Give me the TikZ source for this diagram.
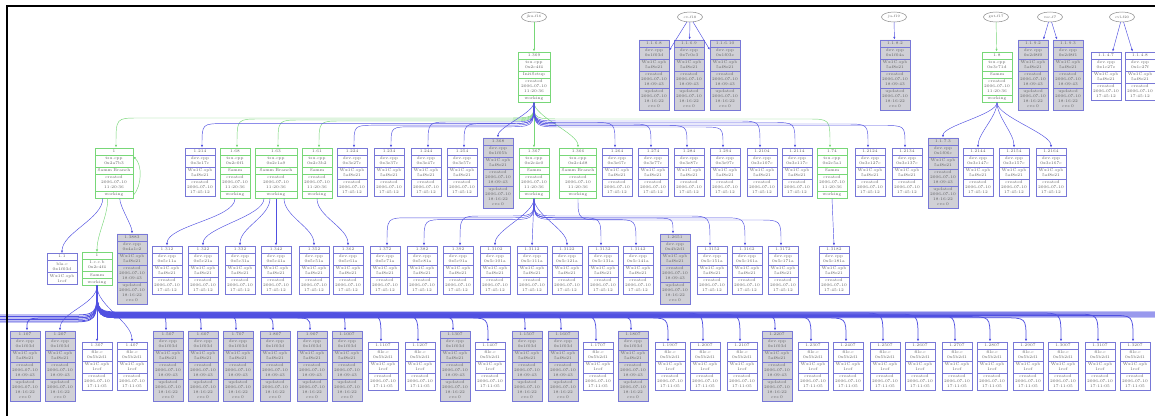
\documentclass[tikz,border=0pt]{standalone}
\usetikzlibrary{shapes.multipart,shapes.geometric,arrows.meta,calc}
\definecolor{bluec}{RGB}{80,80,225}
\definecolor{boxblue}{RGB}{120,120,215}
\definecolor{greenc}{RGB}{120,215,120}
\definecolor{grayc}{RGB}{208,208,214}
\definecolor{txt}{RGB}{95,95,95}
% node contents
\newcommand\cwhite[2]{\strut #1\nodepart{two}\strut dev.cpp\\\strut #2\nodepart{three}\strut Wx1C.spb\\\strut 5af8e21\nodepart{four}\strut created\\\strut 2006-07-10\\\strut 17:45:12}
\newcommand\cgray[2]{\strut #1\nodepart{two}\strut dev.cpp\\\strut #2\nodepart{three}\strut Wx1C.spb\\\strut 5af8e21\nodepart{four}\strut created\\\strut 2006-07-10\\\strut 18:09:43\nodepart{five}\strut updated\\\strut 2006-07-10\\\strut 18:16:22\\\strut cvs 0}
\newcommand\cgreen[3]{\strut #1\nodepart{two}\strut tsu.cpp\\\strut #2\nodepart{three}\strut #3\nodepart{four}\strut created\\\strut 2006-07-10\\\strut 11:20:36\nodepart{five}\strut working}
\newcommand\rcw[1]{\strut #1\nodepart{two}\strut file.c\\\strut 0x5b2d1\nodepart{three}\strut Wx1C.spb\\\strut 1ref\nodepart{four}\strut created\\\strut 2006-07-10\\\strut 17:11:05}
\newcommand\rcg[1]{\cgray{#1}{0x1f03d}}
% connectors
\newcommand\busR[4]{\draw[#1] let \p1=#2, \p2=#3 in (\p1) .. controls (\x1,-#4pt) .. (\x1+30pt,-#4pt) -- (\x2-25pt,-#4pt) .. controls (\x2-2pt,-#4pt) .. (\x2-2pt,\y2);}
\newcommand\busL[4]{\draw[#1] let \p1=#2, \p2=#3 in (\p1) .. controls (\x1,-#4pt) .. (\x1-30pt,-#4pt) -- (\x2+25pt,-#4pt) .. controls (\x2+2pt,-#4pt) .. (\x2+2pt,\y2);}
\newcommand\sedge[4]{\draw[#1] #2 .. controls +(0,#4) and +(0,-#4) .. #3;}
\tikzset{
 rec/.style={rectangle split, rectangle split parts=#1, draw, line width=0.5pt,
   text width=26pt, align=center, inner xsep=2pt, inner ysep=0.8pt,
   font=\fontsize{4}{5}\selectfont, text=txt},
 wbox/.style={rec=4, draw=boxblue, fill=white},
 gbox/.style={rec=5, draw=boxblue, fill=grayc},
 grbox/.style={rec=5, draw=greenc, fill=white},
 r3w/.style={wbox},
 r3g/.style={gbox},
 ell/.style={ellipse, draw=black!45, line width=0.5pt, minimum width=25pt,
   minimum height=10pt, inner sep=0pt, font=\fontsize{3.5}{4}\selectfont, text=txt},
 be/.style={draw=bluec, line width=0.45pt, -{Latex[length=2.6pt,width=2.2pt]}},
 bb/.style={be, line width=0.75pt},
 ge/.style={draw=greenc, line width=0.45pt, -{Latex[length=2.6pt,width=2.2pt]}},
}
\begin{document}
\begin{tikzpicture}[x=1pt,y=-1pt]
\useasboundingbox (0,0) rectangle (1155,415);
\fill[white] (0,0) rectangle (1155,415);
\clip (0,0) rectangle (1155,415);

% ---------- top rank ----------
\node[ell] (e1) at (534,17) {jku-f16};
\node[ell] (e2) at (690,17) {cv-f18};
\node[ell] (e3) at (894,17) {ju-f19};
\node[ell] (e4) at (996,17) {gut-f17};
\node[ell] (e5) at (1050,17) {vec-f7};
\node[ell] (e6) at (1122,17) {cvl-f20};

\node[grbox, text width=28pt] (g1) at (534,77) {\cgreen{1.369}{0x2c4f4}{InitSetup}};
\node[gbox] (t1) at (654,75) {\cgray{1.1.6.8}{0x1f03d}};
\node[gbox] (t2) at (689,75) {\cgray{1.1.6.9}{0x7c0e3}};
\node[gbox] (t3) at (725,75) {\cgray{1.1.6.10}{0x1f03e}};
\node[gbox] (t4) at (895,75) {\cgray{1.1.8.2}{0x1f04a}};
\node[grbox] (g997) at (997,77) {\cgreen{1.8}{0x3c71d}{Samm}};
\node[gbox] (t5) at (1033,75) {\cgray{1.1.9.2}{0x2d8f0}};
\node[gbox] (t6) at (1068,75) {\cgray{1.1.9.3}{0x2d8f1}};
\node[wbox] (w6a) at (1106,76) {\cwhite{1.1.4.7}{0x1c27e}};
\node[wbox] (w6b) at (1140,76) {\cwhite{1.1.4.8}{0x1c27f}};

\draw[ge] (e1) -- (g1);
\draw[be] (e2) -- (t1);
\draw[be] (e2) -- (t2);
\draw[be] (e2) -- (t3);
\draw[be] (e3) -- (t4);
\draw[ge] (e4) -- (g997);
\draw[be] (e5) -- (t5);
\draw[be] (e5) -- (t6);
\draw[be] (e6) -- (w6a);
\draw[be] (e6) -- (w6b);

% ---------- rank 1 ----------
\node[grbox, text width=34pt] (r1a) at (114,173) {\cgreen{1}{0x2a7b3}{Samm Branch}};
\node[grbox] (r1b) at (235,173) {\cgreen{1.68}{0x2c0f1}{Samm}};
\node[grbox, text width=38pt] (r1c) at (276,173) {\cgreen{1.63}{0x2c1a9}{Samm Branch}};
\node[grbox] (r1d) at (317,173) {\cgreen{1.61}{0x2c3b2}{Samm}};
\node[grbox] (r1e) at (534,173) {\cgreen{1.367}{0x2c4e0}{Samm}};
\node[grbox, text width=33pt] (r1f) at (578,173) {\cgreen{1.366}{0x2c4d8}{Samm Branch}};
\node[grbox] (r1g) at (832,173) {\cgreen{1.74}{0x2c5a1}{Samm}};
\foreach \x [count=\i] in {200,352,389,426,462,617,653,689,725,762,797,870,907,978,1014,1051}
  {\node[wbox] (a\i) at (\x,172) {\cwhite{1.2\i 4}{0x3e\i 7c}};}
\node[gbox] (b1) at (498,173) {\cgray{1.368}{0x1f05b}};
\node[gbox] (b2) at (943,173) {\cgray{1.1.7.3}{0x1f06c}};

% edges from g1
\busL{ge}{(g1.south)}{(r1a.north)}{118}
\busL{ge}{(g1.south)}{(r1b.north)}{119}
\busL{ge}{(g1.south)}{(r1c.north)}{120}
\busL{ge}{(g1.south)}{(r1d.north)}{121}
\draw[ge] (g1) -- (r1e);
\sedge{ge}{(g1.south)}{(r1f.north)}{14}
\busR{ge}{(g1.south)}{(r1g.north)}{119}
\foreach \i in {1,...,5} {\pgfmathsetmacro\yb{122+mod(\i,4)*1.6}
  \busL{be}{(g1.south)}{(a\i.north)}{\yb}}
\foreach \i in {6,...,13} {\pgfmathsetmacro\yb{121+mod(\i,5)*1.5}
  \busR{be}{(g1.south)}{(a\i.north)}{\yb}}
\sedge{be}{(g1.south)}{(b1.north)}{10}
% edges from g997
\sedge{be}{(g997.south)}{(b2.north)}{12}
\foreach \i in {14,15,16}
  {\sedge{be}{(g997.south)}{(a\i.north)}{14}}

% ---------- rank 2 ----------
\node[rec=3, draw=boxblue, fill=white] (w62) at (62,269)
  {\strut 1.1\nodepart{two}\strut bla.c\\\strut 0x1f03d\nodepart{three}\strut Wx1C.spb\\\strut 1ref};
\node[rec=4, draw=greenc, fill=white] (g97) at (97,269)
  {\strut 1\nodepart{two}\strut 1.c.c.b\\\strut 0x2c4f4\nodepart{three}\strut Samm\nodepart{four}\strut working};
\node[gbox] (c1) at (132,269) {\cgray{1.3883}{0x4a1c2}};
\node[gbox] (c2) at (675,269) {\cgray{1.2651}{0x4b2d1}};
\foreach \x [count=\i] in {167,203,240,276,314,348,385,422,458,495,532,567,603,638,712,747,783,834}
  {\node[wbox] (d\i) at (\x,270) {\cwhite{1.3\i 2}{0x5c\i 1a}};}

\sedge{be}{([xshift=8pt]r1a.south west)}{(w62.north)}{20}
\sedge{ge}{([xshift=13pt]r1a.south west)}{(g97.north)}{18}
\sedge{be}{([xshift=25pt]r1a.south west)}{(c1.north)}{8}
\draw[ge] ([yshift=3pt]r1a.south east) .. controls +(9,-10) and +(9,8) .. ([yshift=-9pt]r1a.north east);
\sedge{be}{(r1b.south)}{(d1.north)}{20}
\sedge{be}{([xshift=-12pt]r1c.south)}{(d2.north)}{18}
\sedge{be}{([xshift=-6pt]r1c.south)}{(d3.north)}{18}
\draw[be] (r1c.south) -- (d4.north);
\sedge{be}{([xshift=8pt]r1c.south)}{(d5.north)}{18}
\sedge{be}{(r1d.south)}{(d6.north)}{18}
\foreach \i in {7,8,9} {\pgfmathsetmacro\yb{216+mod(\i,3)*1.8}
  \busL{be}{(r1e.south)}{(d\i.north)}{\yb}}
\sedge{be}{(r1e.south)}{(d10.north)}{16}
\draw[be] (r1e.south) -- (d11.north);
\sedge{be}{(r1e.south)}{(d12.north)}{16}
\foreach \i in {13,14,15,16} {\pgfmathsetmacro\yb{216+mod(\i,3)*1.8}
  \busR{be}{(r1e.south)}{(d\i.north)}{\yb}}
\busR{be}{(r1e.south)}{(c2.north)}{218}
\busR{be}{(r1f.south)}{(d17.north)}{220}
\draw[be] (r1g.south) -- (d18.north);

% ---------- rank 3 ----------
\foreach \x/\t [count=\i] in {25/g,60/g,97/w,132/w,168/g,203/g,238/g,275/g,312/g,347/g,383/w,420/w,455/g,490/w,527/g,563/g,598/w,633/g,670/w,705/w,742/w,777/g,813/w,848/w,885/w,920/w,957/w,992/w,1028/w,1063/w,1100/w,1135/w}
  {\node[r3\t] (r\i) at (\x,366) {\csname rc\t\endcsname{1.\i 07}};}

\coordinate (offR) at (1240,335);
\coordinate (offL) at (-90,335);
\busL{bb}{(g97.south)}{(r1.north)}{318}
\sedge{be}{(g97.south)}{(r2.north)}{18}
\draw[be] (g97.south) -- (r3.north);
\sedge{be}{(g97.south)}{(r4.north)}{20}
\foreach \i in {5,...,32} {\pgfmathsetmacro\yb{313+mod(\i,5)*1.2}
  \busR{bb}{(g97.south)}{(r\i.north)}{\yb}}
\foreach \yb in {312,313,314,315,316,317}
  {\busR{bb}{(g97.south)}{(offR)}{\yb}}
\foreach \yb in {315,316.5,318,319.5,321,322}
  {\busL{bb}{(g97.south)}{(offL)}{\yb}}

% frame
\draw[line width=2.3pt, line join=miter] (7.2,420) -- (7.2,6.2) -- (1160,6.2);
\end{tikzpicture}
\end{document}
